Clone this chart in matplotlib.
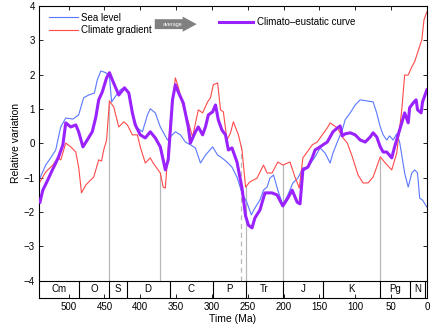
import matplotlib
matplotlib.use('Agg')
import matplotlib.lines
import matplotlib.patches
import matplotlib.pyplot
import numpy

# Sea level (Ma, relative variation)
sea_age = [540, 532, 525, 518, 511, 504, 494, 486, 479, 472,
           464, 460, 455, 448, 443, 440, 435, 428, 423, 416,
           409, 404, 397, 390, 386, 379, 372, 362, 358, 351,
           344, 337, 330, 323, 316, 309, 299, 292, 286, 279,
           272, 265, 258, 251, 245, 240, 233, 228, 223, 219,
           214, 208, 201, 194, 187, 180, 173, 166, 156, 149,
           142, 135, 131, 125, 118, 114, 107, 100, 93, 84,
           75, 70, 65, 61, 56, 52, 47, 42, 38, 35,
           31, 26, 21, 17, 13, 10, 6, 0]
sea_val = [-1.01, -0.63, -0.42, -0.19, 0.48, 0.74, 0.71, 0.83, 1.33, 1.41,
           1.47, 1.85, 2.11, 2.06, 1.94, 1.21, 1.36, 1.56, 1.62, 1.47,
           0.74, 0.45, 0.34, 0.83, 1.01, 0.89, 0.48, 0.10, 0.19, 0.34,
           0.25, 0.04, -0.04, -0.13, -0.57, -0.34, -0.10, -0.34, -0.42, -0.54,
           -0.69, -0.98, -1.44, -1.73, -2.08, -1.88, -1.65, -1.36, -1.27, -1.01,
           -0.92, -1.36, -1.79, -1.50, -1.15, -1.01, -0.71, -0.69, -0.39, -0.13,
           -0.28, -0.57, -0.28, 0.04, 0.39, 0.69, 0.89, 1.12, 1.27, 1.24,
           1.21, 0.89, 0.48, 0.25, 0.10, 0.22, 0.10, 0.28, 0.04, -0.34,
           -0.86, -1.27, -0.86, -0.77, -0.86, -1.59, -1.65, -1.85]

# Climate gradient
climate_age = [540, 532, 522, 515, 511, 504, 497, 490, 486, 482,
               476, 469, 465, 458, 454, 451, 447, 443, 437, 430,
               423, 418, 411, 404, 400, 393, 386, 382, 372, 368,
               365, 358, 351, 347, 340, 333, 327, 319, 313, 306,
               302, 298, 292, 288, 284, 279, 274, 270, 263, 258,
               253, 247, 237, 228, 223, 216, 208, 201, 191, 184,
               178, 173, 167, 160, 153, 146, 139, 135, 131, 125,
               118, 111, 104, 96, 89, 82, 75, 65, 58, 49,
               42, 35, 31, 26, 21, 17, 13, 7, 4, 0]
climate_val = [-1.12, -0.83, -0.63, -0.42, -0.48, 0.01, -0.10, -0.25, -0.69, -1.44,
               -1.21, -1.06, -0.98, -0.48, -0.51, -0.19, 0.10, 1.24, 1.06, 0.48,
               0.63, 0.54, 0.25, 0.25, -0.10, -0.57, -0.42, -0.57, -0.86, -1.27,
               -1.30, 0.68, 1.91, 1.65, 1.06, 0.63, 0.19, 0.98, 0.89, 1.21,
               1.33, 1.71, 1.76, 0.98, 0.92, 0.10, 0.31, 0.63, 0.25, -0.19,
               -1.27, -1.12, -1.01, -0.63, -0.86, -0.86, -0.54, -0.63, -0.54, -0.98,
               -1.30, -0.42, -0.25, -0.04, 0.04, 0.25, 0.45, 0.60, 0.54, 0.45,
               0.19, 0.01, -0.39, -0.92, -1.15, -1.15, -0.98, -0.39, -0.57, -0.77,
               -0.28, 0.98, 1.99, 1.99, 2.23, 2.38, 2.64, 3.02, 3.60, 3.83]

# Climato-eustatic curve
ce_age = [540, 536, 529, 524, 518, 514, 508, 504, 497, 490,
          486, 480, 474, 467, 462, 458, 453, 447, 443, 439,
          430, 422, 416, 411, 407, 400, 393, 386, 379, 372,
          365, 361, 355, 351, 347, 340, 333, 330, 323, 319,
          313, 309, 305, 299, 295, 291, 286, 281, 277, 272,
          265, 258, 253, 249, 244, 240, 233, 226, 216, 209,
          201, 194, 188, 181, 177, 173, 166, 160, 156, 149,
          145, 139, 135, 131, 125, 121, 118, 114, 107, 100,
          93, 86, 79, 75, 70, 65, 61, 56, 49, 45,
          40, 35, 31, 26, 24, 19, 15, 13, 8, 6,
          1, 0]
ce_val = [-1.71, -1.36, -1.06, -0.83, -0.57, -0.39, -0.04, 0.60, 0.48, 0.54,
          0.34, -0.10, 0.10, 0.34, 0.77, 1.27, 1.50, 1.91, 2.06, 1.85,
          1.41, 1.62, 1.47, 0.89, 0.54, 0.25, 0.16, 0.34, 0.16, -0.10,
          -0.77, -0.48, 1.27, 1.71, 1.50, 1.18, 0.48, 0.01, 0.34, 0.48,
          0.25, 0.48, 0.83, 0.92, 1.12, 0.68, 0.39, 0.25, -0.19, -0.13,
          -0.54, -1.30, -2.11, -2.38, -2.46, -2.17, -1.94, -1.44, -1.44, -1.50,
          -1.82, -1.59, -1.36, -1.71, -1.76, -0.77, -0.69, -0.42, -0.19, -0.10,
          -0.04, 0.04, 0.19, 0.34, 0.45, 0.51, 0.22, 0.28, 0.31, 0.25,
          0.10, 0.04, 0.19, 0.31, 0.19, -0.10, -0.25, -0.25, -0.42, -0.10,
          0.25, 0.60, 0.89, 0.60, 1.04, 1.18, 1.27, 0.98, 0.89, 1.21,
          1.50, 1.56]

# Mass extinctions (Ma); the end-Guadalupian one is dashed
extinction_age = [443, 372, 260, 252, 201, 66]
extinction_dashed = [False, False, True, False, False, False]

# Geological periods
period_bounds = [541, 485, 443, 419, 359, 299, 252, 201, 145, 66, 23, 2.6, 0]
period_names = ['Cm', 'O', 'S', 'D', 'C', 'P', 'Tr', 'J', 'K', 'Pg', 'N', '']

x_ticks = [500, 450, 400, 350, 300, 250, 200, 150, 100, 50, 0]
y_ticks = [-4, -3, -2, -1, 0, 1, 2, 3, 4]

SEA_COLOR = '#5a78ff'
CLIMATE_COLOR = '#ff4a4a'
CE_COLOR = '#9a22ff'

matplotlib.pyplot.rcParams['font.family'] = ['Liberation Sans', 'DejaVu Sans']

figure = matplotlib.pyplot.figure(figsize=(4.36, 3.28), dpi=100)
axes = figure.add_axes([0.09, 0.0915, 0.889, 0.890])

axes.set_xlim(541, 0)
axes.set_ylim(-4.5, 4)

# Extinction markers, from the bottom of the plot up to the climate curve
rev_age = numpy.array(climate_age[::-1], dtype=float)
rev_val = numpy.array(climate_val[::-1], dtype=float)
for age, dashed in zip(extinction_age, extinction_dashed):
    top = numpy.interp(age, rev_age, rev_val)
    axes.plot([age, age], [-4, top], c='#b8b8b8', lw=0.9,
              ls=(0, (4, 3)) if dashed else '-', zorder=1)

sea_line, = axes.plot(sea_age, sea_val, c=SEA_COLOR, lw=0.8, zorder=2,
                      label='Sea level')
climate_line, = axes.plot(climate_age, climate_val, c=CLIMATE_COLOR, lw=0.8,
                          zorder=2, label='Climate gradient')
ce_line, = axes.plot(ce_age, ce_val, c=CE_COLOR, lw=2.2, zorder=3,
                     solid_joinstyle='round', label='Climato\u2013eustatic curve')

# Period band along the bottom
axes.axhline(-4, c='k', lw=0.8, zorder=4)
for b in period_bounds[1:-1]:
    axes.plot([b, b], [-4.5, -4], c='k', lw=0.8, zorder=4)
for name, older, younger in zip(period_names, period_bounds[:-1],
                                period_bounds[1:]):
    if name:
        axes.text((older + younger) / 2, -4.25, name, ha='center',
                  va='center', fontsize=7)

axes.set_xticks(x_ticks)
axes.set_yticks(y_ticks)
axes.tick_params(direction='in', top=True, right=True, length=3,
                 width=0.6, labelsize=7, pad=3)
for spine in axes.spines.values():
    spine.set_linewidth(0.8)

axes.set_xlabel('Time (Ma)', fontsize=7.5, labelpad=1)
axes.set_ylabel('Relative variation', fontsize=7.5, labelpad=2)
axes.yaxis.set_label_coords(-0.048, 0.53)

first = axes.legend(handles=[sea_line, climate_line], loc='upper left',
                    bbox_to_anchor=(0.008, 1.0), frameon=False, fontsize=7,
                    handlelength=3.0, handletextpad=0.3, labelspacing=0.25,
                    borderaxespad=0.3)
axes.add_artist(first)
axes.legend(handles=[ce_line], loc='upper left', bbox_to_anchor=(0.447, 0.985),
            frameon=False, fontsize=7, handlelength=3.5,
            handletextpad=0.35, borderaxespad=0.3)

# The grey "average" arrow between the two legends
arrow = matplotlib.patches.FancyArrow(
    0.298, 0.938, 0.072, 0, width=0.034, head_width=0.052, head_length=0.036,
    length_includes_head=False, transform=axes.transAxes,
    color='#808080', lw=0, zorder=5)
axes.add_patch(arrow)
axes.text(0.345, 0.938, 'average', transform=axes.transAxes, ha='center',
          va='center', fontsize=4, color='white', zorder=6)

figure.savefig('out.png', dpi=100)
matplotlib.pyplot.close(figure)
